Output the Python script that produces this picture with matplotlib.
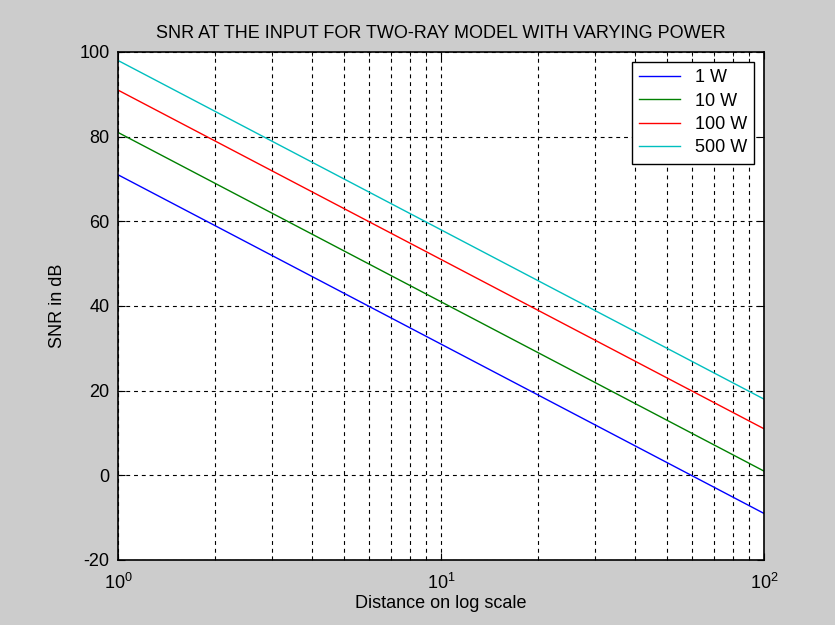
import matplotlib
matplotlib.use("Agg")
import matplotlib.pyplot as plt
from matplotlib.ticker import LogLocator, NullFormatter

plt.rcParams['font.family'] = ['Liberation Sans', 'DejaVu Sans']
plt.rcParams['mathtext.fontset'] = 'custom'
plt.rcParams['mathtext.rm'] = 'Liberation Sans'
plt.rcParams['mathtext.it'] = 'Liberation Sans'
plt.rcParams['axes.unicode_minus'] = False

# values (straight lines on log-x, so a few points each)
distance = [1, 10, 100]
snr_1w = [71, 31, -9]
snr_10w = [81, 41, 1]
snr_100w = [91, 51, 11]
snr_500w = [98, 58, 18]
labels = ['1 W', '10 W', '100 W', '500 W']
colors = ['#0000ff', '#008000', '#ff0000', '#00bfbf']

fig = plt.figure(figsize=(8.35, 6.25), dpi=100, facecolor='#cccccc')
ax = fig.add_axes([118/835, 65/625, 646/835, 508/625])

for ys, lab, c in zip([snr_1w, snr_10w, snr_100w, snr_500w], labels, colors):
    ax.plot(distance, ys, color=c, lw=1.0, label=lab)

ax.set_xscale('log')
ax.set_xlim(1, 100)
ax.set_ylim(-20, 100)
ax.set_yticks(range(-20, 101, 20))
ax.xaxis.set_minor_locator(LogLocator(base=10, subs=range(2, 10)))
ax.xaxis.set_minor_formatter(NullFormatter())

ax.grid(True, which='major', color='black', linestyle=(0, (3.5, 3.5)), lw=0.8)
ax.grid(True, which='minor', axis='x', color='black', linestyle=(0, (3.5, 3.5)), lw=0.8)
ax.tick_params(which='both', direction='in', top=True, right=True, labelsize=13, color='black')
ax.tick_params(which='major', length=5)
ax.tick_params(which='minor', length=3)
ax.tick_params(axis='x', which='major', pad=9)
ax.tick_params(axis='y', which='major', pad=6)
for s in ax.spines.values():
    s.set_linewidth(1.2)

ax.set_title('SNR AT THE INPUT FOR TWO-RAY MODEL WITH VARYING POWER', fontsize=13, pad=10)
ax.set_xlabel('Distance on log scale', fontsize=13, labelpad=2)
ax.set_ylabel('SNR in dB', fontsize=13, labelpad=10)

leg = ax.legend(loc='upper right', bbox_to_anchor=(0.985, 0.980), borderaxespad=0,
                fontsize=13, fancybox=False, edgecolor='black', framealpha=1,
                handlelength=2.3, handletextpad=0.8, labelspacing=0.35, borderpad=0.4)
leg.get_frame().set_linewidth(1.0)

fig.savefig('out.png', dpi=100, facecolor=fig.get_facecolor())
